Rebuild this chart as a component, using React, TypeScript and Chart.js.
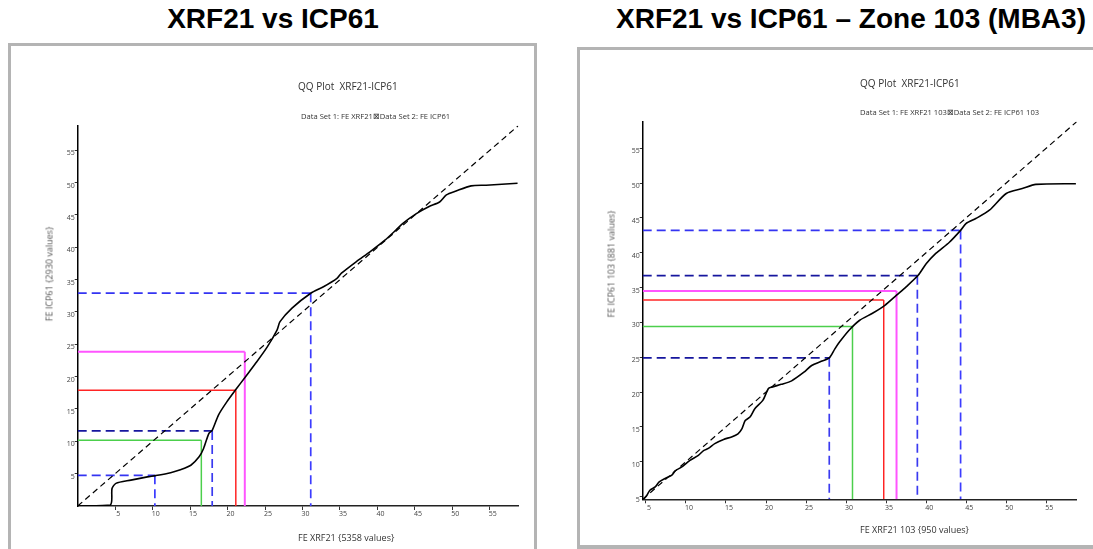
import React, { useEffect, useRef } from "react";
import { Chart, registerables } from "chart.js";

Chart.register(...registerables);

// ---------- data: left panel (all zones) ----------
const leftCurveX = [0, 4.35, 4.58, 5.1, 7.1, 9.3, 10.4, 12.4, 13.7, 15.1, 16.2, 16.8, 17.5, 17.95, 18.8, 19.9, 21.1, 22.4, 23.9, 25.3, 26.6, 27.0, 28.6, 31.1, 32.8, 34.6, 35.2, 37.2, 39.0, 41.0, 42.5, 43.4, 45.2, 46.9, 48.3, 49.2, 50.5, 52.5, 54.5, 58.7];
const leftCurveY = [0, 0.15, 2.7, 3.5, 4.0, 4.5, 4.7, 5.15, 5.6, 6.3, 7.6, 8.9, 11.2, 11.7, 14.1, 16.1, 18.0, 20.0, 22.3, 24.6, 27.2, 28.5, 30.6, 32.9, 33.9, 35.2, 36.0, 37.8, 39.3, 41.1, 42.7, 43.7, 45.2, 46.3, 47.0, 48.1, 48.7, 49.5, 49.6, 49.9];
const leftMarkerX = [10.3, 16.5, 17.95, 21.1, 22.3, 31.1];
const leftMarkerY = [4.75, 10.15, 11.6, 17.9, 23.85, 32.9];
const leftMarkerKind = ["blueA", "green", "blueN", "red", "magenta", "blueA"];
const leftRange = [0, 58.8];

// ---------- data: right panel (zone 103) ----------
const rightCurveX = [4.7, 5.12, 5.5, 6.16, 6.66, 7.4, 8.24, 8.65, 9.48, 10.5, 11.55, 12.2, 12.8, 13.6, 14.7, 15.7, 16.5, 17.0, 17.4, 18.0, 18.6, 19.6, 20.3, 20.7, 21.9, 23.2, 24.8, 25.7, 26.9, 27.9, 28.6, 29.2, 30.4, 31.7, 33.3, 34.8, 36.3, 37.5, 39.0, 40.0, 41.2, 42.9, 44.3, 45.0, 46.2, 47.9, 50.0, 52.0, 53.7, 58.7];
const rightCurveY = [4.57, 5.19, 5.9, 6.38, 7.1, 7.6, 8.06, 8.67, 9.25, 10.2, 10.9, 11.6, 11.9, 12.6, 13.2, 13.55, 14.0, 14.75, 15.9, 16.4, 17.6, 18.8, 20.5, 20.7, 21.1, 21.6, 22.9, 23.8, 24.4, 24.9, 26.2, 27.2, 28.9, 30.3, 31.3, 32.4, 33.9, 35.1, 36.75, 38.4, 39.9, 41.5, 43.2, 44.2, 44.9, 46.1, 48.5, 49.2, 49.8, 49.9];
const rightMarkerX = [27.9, 30.8, 34.7, 36.3, 38.9, 44.3];
const rightMarkerY = [24.9, 29.4, 33.2, 34.5, 36.7, 43.2];
const rightMarkerKind = ["blueN", "green", "red", "magenta", "blueN", "blueA"];
const rightRange = [4.6, 58.8];

const axisTicks = [5, 10, 15, 20, 25, 30, 35, 40, 45, 50, 55];

// ---------- styles ----------
const markerStyle: Record<string, { h: string; v: string; dash: number[]; width: number }> = {
  blueA: { h: "#3434f2", v: "#3c3cff", dash: [9, 5], width: 1.7 },
  blueN: { h: "#16169e", v: "#3a3af0", dash: [9, 5], width: 1.7 },
  green: { h: "#4ccf4c", v: "#4ccf4c", dash: [], width: 1.5 },
  red: { h: "#ff2424", v: "#ff2424", dash: [], width: 1.5 },
  magenta: { h: "#ff55ff", v: "#ff55ff", dash: [], width: 2 },
};

type Geom = { yW: number; xH: number; padTop: number; padRight: number };

function buildConfig(
  cx: number[], cy: number[], mx: number[], my: number[], kinds: string[],
  range: number[], g: Geom
): any {
  const [mn, mxv] = range;
  const curve = cx.map((x, i) => ({ x, y: cy[i] }));
  const datasets: any[] = [
    {
      data: curve, borderColor: "#000", borderWidth: 1.6, pointRadius: 0,
      tension: 0.25, order: 0, fill: false,
    },
    {
      data: [{ x: mn, y: mn }, { x: mxv, y: mxv }], borderColor: "#000",
      borderWidth: 1.2, borderDash: [6, 4], pointRadius: 0, order: 1, fill: false,
    },
  ];
  mx.forEach((x, i) => {
    const s = markerStyle[kinds[i]];
    datasets.push({
      data: [{ x: mn, y: my[i] }, { x, y: my[i] }],
      borderColor: s.h, borderWidth: s.width, borderDash: s.dash,
      pointRadius: 0, order: 2, fill: false, tension: 0,
    });
    datasets.push({
      data: [{ x, y: my[i] }, { x, y: mn }],
      borderColor: s.v, borderWidth: s.width, borderDash: s.dash,
      pointRadius: 0, order: 2, fill: false, tension: 0,
    });
  });
  const tickFont = { family: "'Open Sans', sans-serif", size: 7 };
  return {
    type: "line",
    data: { datasets },
    options: {
      animation: false,
      responsive: false,
      devicePixelRatio: 1,
      layout: { padding: { top: g.padTop, right: g.padRight, left: 0, bottom: 0 } },
      plugins: { legend: { display: false }, tooltip: { enabled: false }, title: { display: false } },
      scales: {
        x: {
          type: "linear", min: mn, max: mxv,
          afterBuildTicks: (s: any) => { s.ticks = axisTicks.map((v) => ({ value: v })); },
          afterFit: (s: any) => { s.height = g.xH; },
          ticks: { font: tickFont, color: "#444", padding: 0, labelOffset: 3, autoSkip: false, maxRotation: 0 },
          grid: { drawOnChartArea: false, drawTicks: true, tickLength: 4, color: "#333" },
          border: { color: "#222", width: 1.5 },
        },
        y: {
          type: "linear", min: mn, max: mxv,
          afterBuildTicks: (s: any) => { s.ticks = axisTicks.map((v) => ({ value: v })); },
          afterFit: (s: any) => { s.width = g.yW; },
          ticks: { font: tickFont, color: "#444", padding: 0, labelOffset: 3, autoSkip: false },
          grid: { drawOnChartArea: false, drawTicks: true, tickLength: 3, color: "#333" },
          border: { color: "#000", width: 1.5 },
        },
      },
    },
  };
}

function QQCanvas(props: { left: number; top: number; width: number; height: number; make: () => any }) {
  const ref = useRef<HTMLCanvasElement>(null);
  useEffect(() => {
    const chart = new Chart(ref.current as HTMLCanvasElement, props.make());
    return () => chart.destroy();
  }, []);
  return (
    <canvas
      ref={ref}
      width={props.width}
      height={props.height}
      style={{ position: "absolute", left: props.left, top: props.top, width: props.width, height: props.height }}
    />
  );
}

const txt = (left: number, cy: number, size: number, text: string) => (
  <div
    style={{
      position: "absolute", left, top: cy - size / 2, fontSize: size, lineHeight: 1 + "",
      fontFamily: "'Open Sans', sans-serif", color: "#333", whiteSpace: "pre",
    }}
  >
    {text}
  </div>
);

const vtxt = (cx: number, cy: number, size: number, text: string) => (
  <div
    style={{
      position: "absolute", left: cx, top: cy, fontSize: size, lineHeight: 1 + "",
      fontFamily: "'Open Sans', sans-serif", color: "#555", whiteSpace: "pre",
      transform: "translate(-50%, -50%) rotate(-90deg)",
    }}
  >
    {text}
  </div>
);

const titleStyle: any = {
  position: "absolute", top: 3, fontFamily: "'Liberation Sans', Arial, sans-serif",
  fontWeight: "bold", fontSize: 28, color: "#000", whiteSpace: "nowrap", transform: "translateX(-50%)",
  lineHeight: "32px",
};

export default function App() {
  return (
    <div style={{ position: "fixed", left: 0, top: 0, width: 1093, height: 549, background: "#fff", overflow: "hidden" }}>
      <div style={{ ...titleStyle, left: 273 }}>XRF21 vs ICP61</div>
      <div style={{ ...titleStyle, left: 851 }}>XRF21 vs ICP61 – Zone 103 (MBA3)</div>

      <div style={{ position: "absolute", left: 8, top: 43, width: 529, height: 530, border: "3px solid #b4b4b4", boxSizing: "border-box" }} />
      <div style={{ position: "absolute", left: 577, top: 47, width: 540, height: 502, border: "3px solid #b4b4b4", borderBottomWidth: 4, boxSizing: "border-box" }} />

      <QQCanvas
        left={11} top={46} width={522} height={503}
        make={() => buildConfig(leftCurveX, leftCurveY, leftMarkerX, leftMarkerY, leftMarkerKind, leftRange,
          { yW: 66.7, xH: 43, padTop: 79.7, padRight: 14.7 })}
      />
      <QQCanvas
        left={580} top={50} width={513} height={495}
        make={() => buildConfig(rightCurveX, rightCurveY, rightMarkerX, rightMarkerY, rightMarkerKind, rightRange,
          { yW: 62.7, xH: 45.7, padTop: 71.7, padRight: 16.3 })}
      />

      {txt(298, 86, 10, "QQ Plot  XRF21-ICP61")}
      {txt(301, 116.7, 7.6, "Data Set 1: FE XRF21\u22A0Data Set 2: FE ICP61")}
      {txt(298, 537.3, 9, "FE XRF21 {5358 values}")}
      {vtxt(49, 274, 9, "FE ICP61 {2930 values}")}

      {txt(860, 82.7, 10, "QQ Plot  XRF21-ICP61")}
      {txt(860, 112.3, 7.6, "Data Set 1: FE XRF21 103\u22A0Data Set 2: FE ICP61 103")}
      {txt(860, 529.3, 9, "FE XRF21 103 {950 values}")}
      {vtxt(610.7, 264, 9, "FE ICP61 103 {881 values}")}
    </div>
  );
}
